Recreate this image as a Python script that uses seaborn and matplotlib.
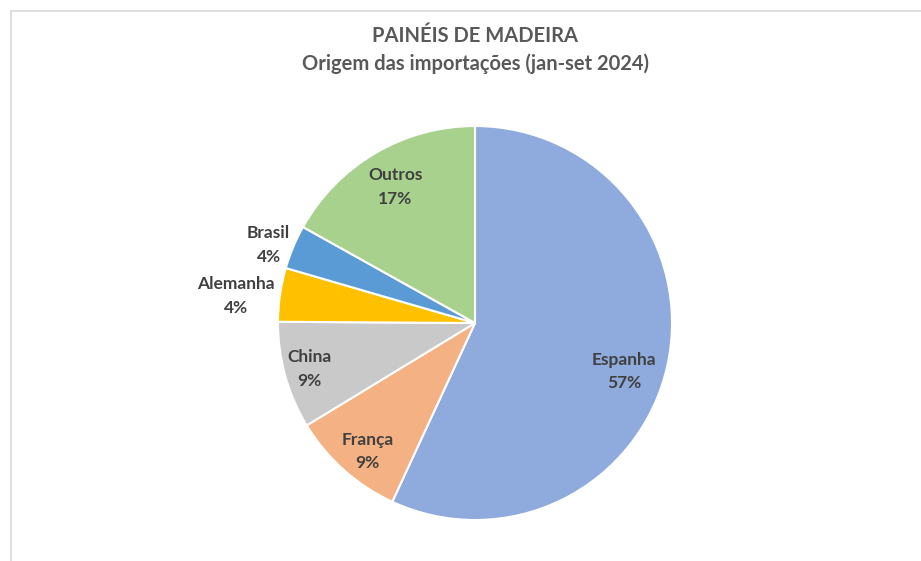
import numpy as np
import matplotlib
matplotlib.use("Agg")
import matplotlib.pyplot as plt
import seaborn as sns
from matplotlib.patches import Rectangle

categories = ["Espanha", "França", "China", "Alemanha", "Brasil", "Outros"]
shares = [56.9, 9.4, 8.8, 4.4, 3.6, 16.9]
colors = ["#8FAADC", "#F4B183", "#C9C9C9", "#FFC000", "#5B9BD5", "#A9D18E"]
label_dist = [0.795, 0.85, 0.87, 1.22, 1.12, 0.80]
label_ang_off = [-5.6, 1.9, 0.0, 1.8, 2.0, 0.0]
title_lines = ["PAINÉIS DE MADEIRA", "Origem das importações (jan-set 2024)"]

sns.set_theme(style="white")
plt.rcParams['font.family'] = ['Lato', 'DejaVu Sans']

W, H = 921, 561
fig = plt.figure(figsize=(W / 100, H / 100), dpi=100)
fig.patch.set_facecolor("white")

# chart frame (partly visible)
fig.add_artist(Rectangle((11 / W, -0.1), 1.2, (H - 11) / H + 0.1,
                         transform=fig.transFigure, fill=False,
                         edgecolor="#D9D9D9", linewidth=1.2))

cx, cy, r = 475, 323, 197
ax = fig.add_axes([(cx - r) / W, (H - cy - r) / H, 2 * r / W, 2 * r / H])
wedges, _ = ax.pie(shares, colors=colors, startangle=90, counterclock=False,
                   radius=1.0, wedgeprops=dict(edgecolor="white", linewidth=1.5))
ax.set_xlim(-1, 1)
ax.set_ylim(-1, 1)
ax.set_aspect("equal")
ax.axis("off")

for w, cat, val, d, off in zip(wedges, categories, shares, label_dist, label_ang_off):
    ang = np.deg2rad((w.theta1 + w.theta2) / 2 + off)
    x, y = d * np.cos(ang), d * np.sin(ang)
    ax.text(x, y, f"{cat}\n{round(val):.0f}%", ha="center", va="center",
            fontsize=12.5, fontweight="bold", color="#404040",
            linespacing=1.6)

fig.text(475 / W, 1 - 36 / H, title_lines[0], ha="center", va="center",
         fontsize=14.5, fontweight="bold", color="#595959")
fig.text(475 / W, 1 - 64 / H, title_lines[1], ha="center", va="center",
         fontsize=14.5, fontweight="bold", color="#595959")

fig.savefig("out.png", dpi=100, facecolor="white")
